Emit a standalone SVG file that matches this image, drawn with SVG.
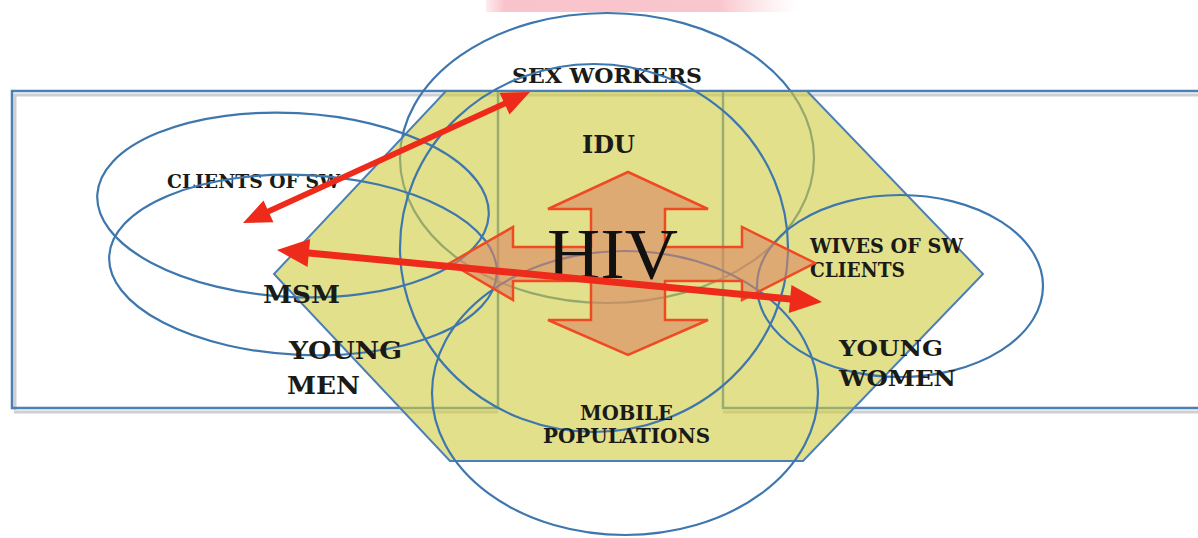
<svg xmlns="http://www.w3.org/2000/svg" width="1198" height="538" viewBox="0 0 1198 538">
<defs>
<linearGradient id="pinkbar" x1="0" y1="0" x2="1" y2="0">
<stop offset="0" stop-color="#f9c3cb" stop-opacity="0.3"/>
<stop offset="0.06" stop-color="#f9c3cb" stop-opacity="1"/>
<stop offset="0.75" stop-color="#f9c6cd" stop-opacity="1"/>
<stop offset="1" stop-color="#fbdde1" stop-opacity="0"/>
</linearGradient>
<style>
.ring{fill:none;stroke:#3e77ad;stroke-width:2.2}
.frame{fill:none;stroke:#4a7fb8;stroke-width:2.5}
.shadow{fill:none;stroke:#cfcfcf;stroke-width:3}
.lbl{font-family:"DejaVu Serif","Liberation Serif",serif;font-weight:bold;fill:#1a1a16}
.red{fill:#ee2b1b}
</style>
</defs>
<rect width="1198" height="538" fill="#ffffff"/>
<rect x="486" y="0" width="312" height="12" fill="url(#pinkbar)"/>

<g id="band">
<path class="shadow" d="M14,95 H1205 M14,412 H498 M723,412 H1205 M15,94 V410"/>
<path class="frame" d="M1205,91 H12 V408 H498 V91 M723,91 V408 H1205"/>
</g>

<g id="sex-workers">
<ellipse class="ring" cx="607" cy="158" rx="207" ry="145"/>
<text class="lbl" x="512" y="83" font-size="20" textLength="190" lengthAdjust="spacingAndGlyphs">SEX WORKERS</text>
</g>

<g id="context">
<polygon points="446,91 807,91 983,274 803,461 450,461 274,274" fill="#d0cb3f" fill-opacity="0.6" stroke="#4a7fb8" stroke-width="2"/>
</g>

<g id="idu">
<ellipse class="ring" cx="594" cy="248" rx="194" ry="184"/>
<text class="lbl" x="582" y="153" font-size="24" textLength="53" lengthAdjust="spacingAndGlyphs">IDU</text>
</g>

<g id="mobile-populations">
<ellipse class="ring" cx="625" cy="393" rx="193" ry="142"/>
<text class="lbl" x="580" y="420" font-size="20" textLength="93" lengthAdjust="spacingAndGlyphs">MOBILE</text>
<text class="lbl" x="543" y="443" font-size="20" textLength="167" lengthAdjust="spacingAndGlyphs">POPULATIONS</text>
</g>

<g id="clients-of-sw">
<ellipse class="ring" cx="293" cy="205" rx="196" ry="92" transform="rotate(3 293 205)"/>
<text class="lbl" x="167" y="188" font-size="18" textLength="173" lengthAdjust="spacingAndGlyphs">CLIENTS OF SW</text>
</g>

<g id="young-men">
<ellipse class="ring" cx="303" cy="265" rx="194" ry="90" transform="rotate(2.5 303 265)"/>
<text class="lbl" x="289" y="359" font-size="25" textLength="113" lengthAdjust="spacingAndGlyphs">YOUNG</text>
<text class="lbl" x="287" y="394" font-size="25" textLength="73" lengthAdjust="spacingAndGlyphs">MEN</text>
</g>

<g id="msm">
<text class="lbl" x="263" y="303" font-size="24" textLength="77" lengthAdjust="spacingAndGlyphs">MSM</text>
</g>

<g id="young-women">
<ellipse class="ring" cx="900" cy="286" rx="143" ry="91"/>
<text class="lbl" x="839" y="356" font-size="22" textLength="104" lengthAdjust="spacingAndGlyphs">YOUNG</text>
<text class="lbl" x="839" y="386" font-size="22" textLength="117" lengthAdjust="spacingAndGlyphs">WOMEN</text>
</g>

<g id="wives-of-sw-clients">
<text class="lbl" x="810" y="253" font-size="20" textLength="153" lengthAdjust="spacingAndGlyphs">WIVES OF SW</text>
<text class="lbl" x="810" y="277" font-size="20" textLength="95" lengthAdjust="spacingAndGlyphs">CLIENTS</text>
</g>

<g id="hiv">
<path d="M628,172 L708,209 L665,209 L665,247 L742,247 L742,227 L815,263 L742,300 L742,281 L665,281 L665,320 L708,320 L628,355 L548,320 L591,320 L591,281 L513,281 L513,300 L450,263 L513,227 L513,247 L591,247 L591,209 L548,209 Z" fill="#db8662" fill-opacity="0.6" stroke="#ef4b23" stroke-width="2.5" stroke-linejoin="miter"/>
<text x="547" y="278" font-family="'Liberation Serif','Times New Roman',serif" font-size="72" fill="#111" textLength="131" lengthAdjust="spacingAndGlyphs">HIV</text>
</g>

<g id="connectors">
<polygon class="red" points="243,223 263.49,200.45 267.22,208.64 503.28,100.90 499.55,92.71 530,92 509.51,114.55 505.78,106.36 269.72,214.10 273.45,222.29"/>
<polygon class="red" points="277,250 310.19,239.10 309.19,249.56 790.47,295.48 791.47,285.02 822,302 788.81,312.90 789.81,302.44 308.53,256.52 307.53,266.98"/>
</g>
</svg>
